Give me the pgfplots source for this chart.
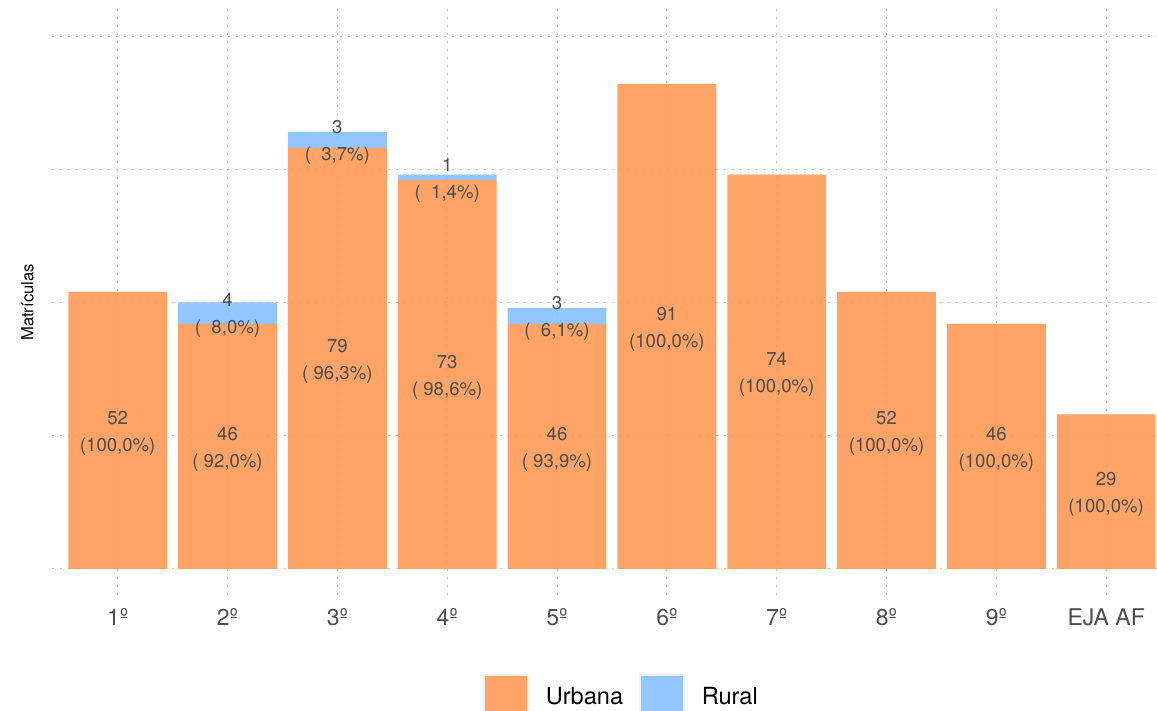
\documentclass[border=0pt]{standalone}
\usepackage{pgfplots}
\pgfplotsset{compat=1.18}
\usepackage{fontspec}
\setmainfont{TeX Gyre Heros}
\definecolor{urb}{RGB}{255,147,75}
\definecolor{rur}{RGB}{128,188,255}
\definecolor{txt}{HTML}{4D4D4D}
\definecolor{grd}{HTML}{C4C4C4}
\pgfplotsset{
  base/.style={
    scale only axis, width=552.6pt, height=293pt,
    xmin=0.4, xmax=10.4625, ymin=-5, ymax=105,
    axis line style={draw=none}, major tick length=0pt,
    xtick={1,2,3,4,5,6,7,8,9,10}, ytick={0,25,50,75,100},
  },
  sqlegend/.style={legend image code/.code={%
    \draw[##1, draw=gray!10, line width=0.8pt] (0pt,-11pt) rectangle (22pt,11pt);}},
}
\begin{document}
\begin{tikzpicture}
\begin{axis}[base,
  ybar stacked, bar width=0.9,
  xticklabels={1º,2º,3º,4º,5º,6º,7º,8º,9º,EJA AF},
  yticklabel style={opacity=0, text opacity=0},
  xmajorgrids, ymajorgrids,
  grid style={grd, line width=0.5pt, dash pattern=on 1pt off 3pt},
  xticklabel style={font=\fontsize{11.5}{13}\selectfont, text=txt, yshift=-3pt},
  ylabel={Matrículas},
  every axis y label/.style={at={(axis description cs:-0.022,0.5)}, rotate=90, anchor=center, font=\fontsize{8.3}{10}\selectfont},
  legend columns=2,
  legend style={at={(axis description cs:0.5146,-0.1732)}, anchor=center, draw=none, fill=none, inner sep=0pt,
    font=\fontsize{11.8}{13}\selectfont, nodes={inner sep=0pt},
    /tikz/every odd column/.append style={column sep=8.5pt},
    /tikz/every even column/.append style={column sep=8pt}},
]
\addplot[fill=urb, fill opacity=0.85, draw=none, sqlegend] coordinates {
  (1,52) (2,46) (3,79) (4,73) (5,46) (6,91) (7,74) (8,52) (9,46) (10,29)};
\addlegendentry{Urbana}
\addplot[fill=rur, fill opacity=0.85, draw=none, sqlegend] coordinates {
  (1,0) (2,4) (3,3) (4,1) (5,3) (6,0) (7,0) (8,0) (9,0) (10,0)};
\addlegendentry{Rural}
\coordinate (SW) at (rel axis cs:0,0);
\coordinate (NE) at (rel axis cs:1,1);
\end{axis}
\begin{axis}[base, hide axis, clip=false,
  nodes near coords, point meta=explicit symbolic,
  every node near coord/.append style={anchor=center, align=center, text=txt, yshift=-1.3pt, font=\fontsize{9.3}{13.5}\selectfont},
]
\addplot[only marks, mark=none] coordinates {
  (1,26) [52\\(100,0\%)]
  (2,23) [46\\(\ 92,0\%)]
  (3,39.5) [79\\(\ 96,3\%)]
  (4,36.5) [73\\(\ 98,6\%)]
  (5,23) [46\\(\ 93,9\%)]
  (6,45.5) [91\\(100,0\%)]
  (7,37) [74\\(100,0\%)]
  (8,26) [52\\(100,0\%)]
  (9,23) [46\\(100,0\%)]
  (10,14.5) [29\\(100,0\%)]
};
\addplot[only marks, mark=none] coordinates {
  (2,48) [4\\(\ \ 8,0\%)]
  (3,80.5) [3\\(\ \ 3,7\%)]
  (4,73.5) [1\\(\ \ 1,4\%)]
  (5,47.5) [3\\(\ \ 6,1\%)]
};
\end{axis}
\pgfresetboundingbox
\useasboundingbox ([xshift=-25.9pt,yshift=-57.75pt]SW) rectangle ([yshift=4.75pt]NE);
\end{tikzpicture}
\end{document}
